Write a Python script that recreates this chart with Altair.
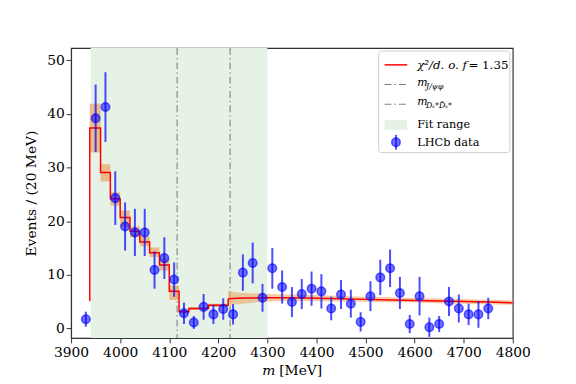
import altair as alt
import pandas as pd

# ---------------- data ----------------
bin_centers = [3930, 3950, 3970, 3990, 4010, 4030, 4050, 4070, 4090, 4110,
               4130, 4150, 4170, 4190, 4210, 4230, 4250, 4270, 4290, 4310,
               4330, 4350, 4370, 4390, 4410, 4430, 4450, 4470, 4490, 4510,
               4530, 4550, 4570, 4590, 4610, 4630, 4650, 4670, 4690, 4710,
               4730, 4750]
counts = [1.7, 39.2, 41.3, 24.3, 19.0, 17.9, 17.9, 10.9, 13.1, 9.1,
          2.8, 1.1, 4.0, 2.6, 3.6, 2.6, 10.4, 12.2, 5.7, 11.2,
          7.7, 4.9, 6.4, 7.4, 6.9, 3.7, 6.3, 4.6, 1.2, 6.0,
          9.5, 11.2, 6.6, 0.8, 6.0, 0.2, 0.8, 5.0, 3.7, 2.6,
          2.6, 3.7]
errors = [1.4, 6.3, 6.5, 5.0, 4.5, 4.4, 4.4, 3.5, 3.9, 3.2,
          2.0, 1.2, 2.4, 1.8, 2.0, 1.9, 3.4, 3.8, 2.6, 3.8,
          3.1, 2.8, 2.8, 3.2, 3.2, 2.2, 2.7, 2.6, 1.8, 2.8,
          3.3, 3.5, 3.0, 1.7, 3.6, 1.8, 1.5, 2.7, 2.6, 2.0,
          2.5, 2.0]

# binned model (step part)
step_edges = [3937, 3938, 3960, 3980, 4000, 4020, 4040, 4060, 4080, 4100, 4120, 4140, 4180, 4220]
step_values = [5.2, 37.4, 29.1, 24.2, 20.7, 18.1, 16.1, 14.1, 11.8, 6.9, 3.1, 3.7, 4.3, 5.5]
step_lo = [5.2, 32.8, 27.4, 22.9, 19.0, 17.0, 15.3, 13.3, 10.8, 5.3, 2.8, 3.4, 4.0, 5.5]
step_hi = [5.2, 41.9, 30.6, 25.4, 22.0, 19.0, 17.2, 15.1, 13.0, 8.0, 3.4, 4.0, 4.6, 5.5]

# smooth model part
smooth_x = [4220, 4240, 4260, 4300, 4350, 4400, 4450, 4500, 4550, 4600, 4650, 4700, 4750, 4800]
smooth_y = [5.5, 5.6, 5.65, 5.7, 5.7, 5.6, 5.5, 5.4, 5.3, 5.2, 5.1, 5.0, 4.9, 4.75]
smooth_lo = [4.3, 4.5, 4.7, 5.0, 5.1, 5.05, 5.0, 4.95, 4.85, 4.8, 4.7, 4.6, 4.5, 4.4]
smooth_hi = [6.9, 6.7, 6.6, 6.4, 6.3, 6.2, 6.05, 5.9, 5.8, 5.65, 5.55, 5.45, 5.35, 5.2]

fit_range = [3940, 4300]
thresholds = [4116, 4224]

# ---------------- frames ----------------
data_df = pd.DataFrame({"m": bin_centers, "n": counts, "err": errors})
data_df["lo"] = data_df["n"] - data_df["err"]
data_df["hi"] = data_df["n"] + data_df["err"]

step_df = pd.DataFrame({"m": step_edges, "y": step_values, "lo": step_lo, "hi": step_hi})
smooth_df = pd.DataFrame({"m": smooth_x, "y": smooth_y, "lo": smooth_lo, "hi": smooth_hi})
fit_df = pd.DataFrame({"a": [fit_range[0]], "b": [fit_range[1]]})
thr_df = pd.DataFrame({"m": thresholds})

FONT = "DejaVu Serif"
W, H = 448, 294

xscale = alt.Scale(domain=[3900, 4800], nice=False, zero=False)
yscale = alt.Scale(domain=[-1.8, 52.3], nice=False, zero=False)

xax = alt.Axis(values=list(range(3900, 4801, 100)), title=None, grid=False,
               labelFont=FONT, labelFontSize=14, labelColor="black",
               labelOverlap=False, labelFlush=False,
               tickSize=5, tickColor="#333", domainColor="#333", labelPadding=3, format="d")
yax = alt.Axis(values=[0, 10, 20, 30, 40, 50], title="Events / (20 MeV)", grid=False,
               labelFont=FONT, labelFontSize=14, labelColor="black",
               labelOverlap=False, labelFlush=False,
               titleFont=FONT, titleFontSize=14, titleFontWeight="normal", titleColor="black",
               titlePadding=8, tickSize=5, tickColor="#333", domainColor="#333", labelPadding=2)

X = lambda f: alt.X(f, type="quantitative", scale=xscale, axis=xax)
Y = lambda f: alt.Y(f, type="quantitative", scale=yscale, axis=yax)

span = alt.Chart(fit_df).mark_rect(color="#e6f2e6").encode(
    x=X("a"), x2="b", y=alt.value(0), y2=alt.value(H))

DASH = [7, 3, 1.5, 3]
rules = alt.Chart(thr_df).mark_rule(color="#808080", strokeWidth=1.1, strokeDash=DASH).encode(
    x=X("m"), y=alt.value(0), y2=alt.value(H))

BAND = "#eaa869"
band_step = alt.Chart(step_df).mark_area(interpolate="step-after", color=BAND, opacity=0.75).encode(
    x=X("m"), y=Y("lo"), y2="hi")
band_smooth = alt.Chart(smooth_df).mark_area(color=BAND, opacity=0.6).encode(
    x=X("m"), y=Y("lo"), y2="hi")
line_step = alt.Chart(step_df).mark_line(interpolate="step-after", color="red", strokeWidth=1.5).encode(
    x=X("m"), y=Y("y"))
line_smooth = alt.Chart(smooth_df).mark_line(color="red", strokeWidth=1.5).encode(
    x=X("m"), y=Y("y"))

ebars = alt.Chart(data_df).mark_rule(color="blue", opacity=0.7, strokeWidth=2).encode(
    x=X("m"), y=Y("lo"), y2="hi")
pts = alt.Chart(data_df).mark_point(filled=True, shape="circle", size=75, fill="blue",
                                    fillOpacity=0.55, stroke="blue", strokeOpacity=0.6,
                                    strokeWidth=1.5).encode(x=X("m"), y=Y("n"))

one = pd.DataFrame({"a": [0]})

def txt(s, x, y, size=11, style="normal", align="left", baseline="middle"):
    return alt.Chart(one).mark_text(text=s, font=FONT, fontSize=size, fontStyle=style,
                                    align=align, baseline=baseline, color="black").encode(
        x=alt.value(x), y=alt.value(y))

# legend
lx0, lx1 = 318, 341
tx = 351
leg_box = alt.Chart(one).mark_rect(fill="white", fillOpacity=0.8, stroke="#cccccc",
                                   strokeWidth=1, cornerRadius=3).encode(
    x=alt.value(312), x2=alt.value(445), y=alt.value(3), y2=alt.value(106))
leg_red = alt.Chart(one).mark_rule(color="red", strokeWidth=1.5).encode(
    x=alt.value(lx0), x2=alt.value(lx1), y=alt.value(17))
leg_g1 = alt.Chart(one).mark_rule(color="#808080", strokeWidth=1.1, strokeDash=DASH).encode(
    x=alt.value(lx0), x2=alt.value(lx1), y=alt.value(37))
leg_g2 = alt.Chart(one).mark_rule(color="#808080", strokeWidth=1.1, strokeDash=DASH).encode(
    x=alt.value(lx0), x2=alt.value(lx1), y=alt.value(57))
leg_fit = alt.Chart(one).mark_rect(color="#e6f2e6").encode(
    x=alt.value(lx0), x2=alt.value(lx1), y=alt.value(73), y2=alt.value(83))
leg_eb = alt.Chart(one).mark_rule(color="blue", opacity=0.7, strokeWidth=2).encode(
    x=alt.value(329.5), y=alt.value(88), y2=alt.value(103))
leg_pt = alt.Chart(one).mark_point(filled=True, shape="circle", size=75, fill="blue",
                                   fillOpacity=0.55, stroke="blue", strokeOpacity=0.6,
                                   strokeWidth=1.5).encode(x=alt.value(329.5), y=alt.value(95.5))

leg_texts = [
    txt("χ²/d. o. f", tx, 17, 12, "italic"),
    txt("= 1.35", tx + 52, 17, 12),
    txt("m", tx, 35, 11, "italic"),
    txt("J/ψφ", tx + 9, 39, 8, "italic"),
    txt("m", tx, 55, 11, "italic"),
    txt("Dₛ*D̄ₛ*", tx + 9, 59, 8, "italic"),
    txt("Fit range", tx, 78, 11.5),
    txt("LHCb data", tx, 96, 11.5),
]

# x title with italic m
xt = [
    txt("m", 194, 328, 14, "italic"),
    txt("[MeV]", 211, 328, 14),
]

chart = alt.layer(
    span, rules, band_step, band_smooth, line_step, line_smooth, ebars, pts,
    leg_box, leg_red, leg_g1, leg_g2, leg_fit, leg_eb, leg_pt, *leg_texts, *xt
).properties(
    width=W, height=H,
    autosize=alt.AutoSizeParams(type="none"),
    padding={"left": 64, "top": 38, "right": 56, "bottom": 42},
).configure_view(stroke="#333", strokeWidth=1.2)

chart.save("out.html", embed_options={"renderer": "svg", "actions": False})
